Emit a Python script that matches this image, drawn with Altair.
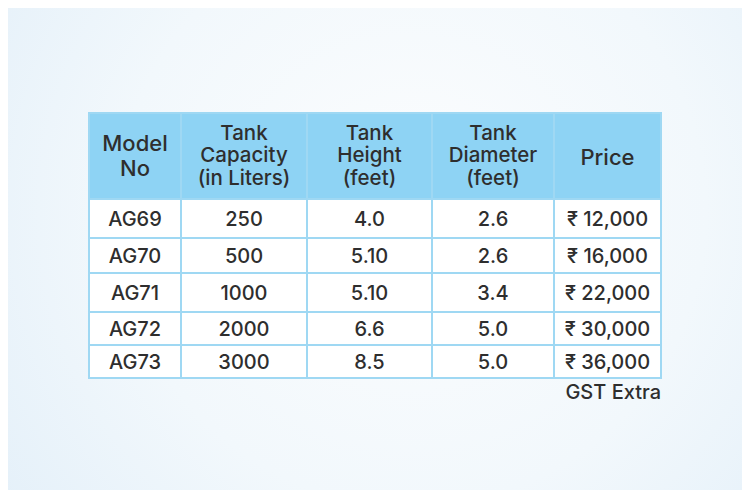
import altair as alt
import pandas as pd

# ---- table content ----
headers = ["Model\nNo", "Tank\nCapacity\n(in Liters)", "Tank\nHeight\n(feet)", "Tank\nDiameter\n(feet)", "Price"]
models = ["AG69", "AG70", "AG71", "AG72", "AG73"]
capacity = ["250", "500", "1000", "2000", "3000"]
height_ft = ["4.0", "5.10", "5.10", "6.6", "8.5"]
diameter_ft = ["2.6", "2.6", "3.4", "5.0", "5.0"]
price = ["₹ 12,000", "₹ 16,000", "₹ 22,000", "₹ 30,000", "₹ 36,000"]
note = "GST Extra"

# ---- layout (chart pixel units) ----
W, H = 734, 482
col_edges = [81, 173, 299, 424, 546, 653]
row_edges = [105, 191, 230, 265, 304, 337, 370]

columns = [models, capacity, height_ft, diameter_ft, price]

cells = []
for c in range(5):
    cells.append(dict(x=col_edges[c], x2=col_edges[c + 1], y=row_edges[0], y2=row_edges[1],
                      cx=(col_edges[c] + col_edges[c + 1]) / 2, cy=(row_edges[0] + row_edges[1]) / 2,
                      text=headers[c], kind="header"))
    for r in range(5):
        cells.append(dict(x=col_edges[c], x2=col_edges[c + 1], y=row_edges[r + 1], y2=row_edges[r + 2],
                          cx=(col_edges[c] + col_edges[c + 1]) / 2, cy=(row_edges[r + 1] + row_edges[r + 2]) / 2 + 1,
                          text=columns[c][r], kind="body"))
df = pd.DataFrame(cells)

xs = alt.Scale(domain=[0, W], nice=False, zero=False)
ys = alt.Scale(domain=[0, H], nice=False, zero=False, reverse=True)

bg = alt.Chart(pd.DataFrame({"a": [0]})).mark_rect(
    fill=alt.RadialGradient(
        gradient="radial", x1=0.55, y1=0.45, r1=0.0, x2=0.55, y2=0.45, r2=0.8,
        stops=[alt.GradientStop(color="#fcfdfe", offset=0),
               alt.GradientStop(color="#f2f8fc", offset=0.5),
               alt.GradientStop(color="#dfedf8", offset=1)]),
    strokeWidth=0,
).encode(x=alt.value(0), x2=alt.value(W), y=alt.value(0), y2=alt.value(H))

rects = alt.Chart(df).mark_rect(stroke="#9fd8f3", strokeWidth=2).encode(
    x=alt.X("x:Q", scale=xs, axis=None),
    x2="x2:Q",
    y=alt.Y("y:Q", scale=ys, axis=None),
    y2="y2:Q",
    fill=alt.Fill("kind:N", scale=alt.Scale(domain=["header", "body"], range=["#8ed3f4", "#ffffff"]), legend=None),
)

hdr = df[df.kind == "header"].copy()
hdr_model = hdr[hdr.text == "Model\nNo"]
hdr_price = hdr[hdr.text == "Price"]
hdr_small = hdr[~hdr.text.isin(["Model\nNo", "Price"])]
body = df[df.kind == "body"]

def txt(data, size, lh=22.5, dy=0):
    return alt.Chart(data).mark_text(
        font="Inter", fontSize=size, fontWeight=500, color="#2e2e2e", align="center", baseline="middle",
        lineBreak="\n", lineHeight=lh, dy=dy,
    ).encode(x=alt.X("cx:Q", scale=xs, axis=None), y=alt.Y("cy:Q", scale=ys, axis=None), text="text:N")

t1 = txt(hdr_model, 22, 25, -12.5)
t1b = txt(hdr_price, 22, 25, 2)
t2 = txt(hdr_small, 20.5, 22.5, -22.5)
t3 = txt(body, 20)

note_df = pd.DataFrame({"cx": [col_edges[-1]], "cy": [385], "text": [note]})
t4 = alt.Chart(note_df).mark_text(
    font="Inter", fontSize=20, fontWeight=500, color="#2e2e2e", align="right", baseline="middle"
).encode(x=alt.X("cx:Q", scale=xs, axis=None), y=alt.Y("cy:Q", scale=ys, axis=None), text="text:N")

chart = alt.layer(bg, rects, t1, t1b, t2, t3, t4).properties(
    width=W, height=H, padding=0, autosize=alt.AutoSizeParams(type="none")
).configure_view(stroke=None).configure(background="#e6f1f9")

chart.save("out.html", embed_options={"renderer": "svg", "actions": False})
